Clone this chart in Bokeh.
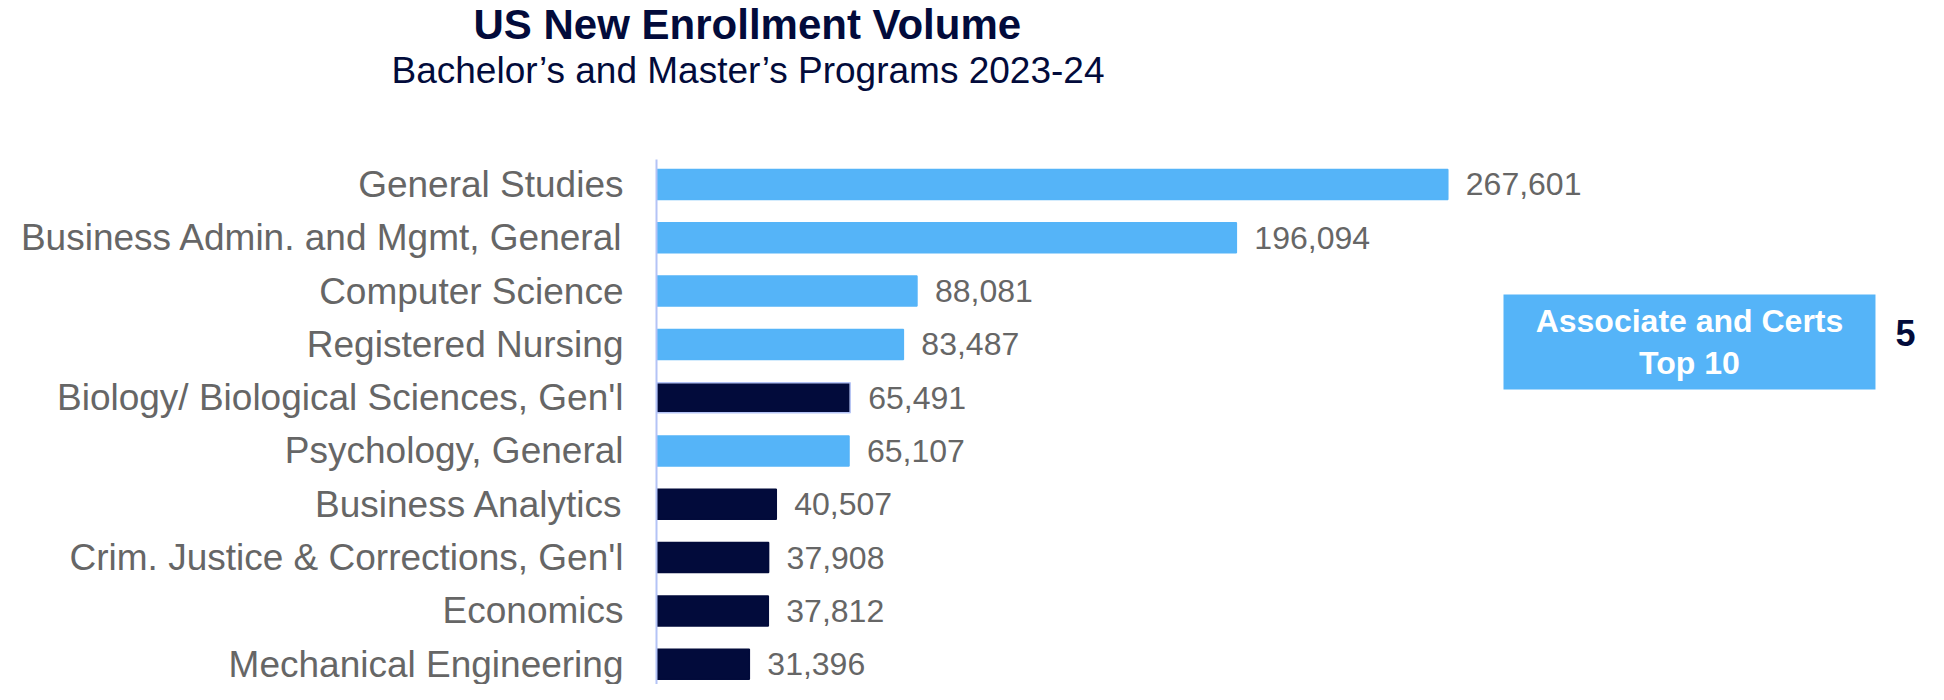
import numpy as np
from bokeh.plotting import figure
from bokeh.models import ColumnDataSource, Range1d, FixedTicker, Title
from bokeh.core.properties import value
from bokeh.embed import file_html
from bokeh.resources import INLINE

# ---------------- data ----------------
categories = [
    "General Studies",
    "Business Admin. and Mgmt, General",
    "Computer Science",
    "Registered Nursing",
    "Biology/ Biological Sciences, Gen'l",
    "Psychology, General",
    "Business Analytics",
    "Crim. Justice & Corrections, Gen'l",
    "Economics",
    "Mechanical Engineering",
]
enrollments = [267601, 196094, 88081, 83487, 65491, 65107, 40507, 37908, 37812, 31396]
# light-blue bars = program also in the Associate and Certs Top 10
in_assoc_top10 = [True, True, True, True, False, True, False, False, False, False]
outlined = ["Biology/ Biological Sciences, Gen'l"]

title_text = "US New Enrollment Volume"
subtitle_text = "Bachelor\u2019s and Master\u2019s Programs 2023-24"
callout_lines = ["Associate and Certs", "Top 10"]

# ---------------- style ----------------
FONT = "Liberation Sans"
NAVY = "#020b3b"
LIGHT = "#55b4f8"
GREY = "#666666"
AXIS = "#b4c3f6"

n = len(categories)
ypos = list(range(n))
colors = [LIGHT if f else NAVY for f in in_assoc_top10]
line_colors = [AXIS if c in outlined else col for c, col in zip(categories, colors)]
labels = [f"{v:,}" for v in enrollments]

src = ColumnDataSource(dict(y=ypos, value=enrollments, cat=categories,
                            color=colors, line_color=line_colors, label=labels))

Y_TOP, Y_BOTTOM = -0.469, 9.381     # visible extent of the bar rows
W, H = 1928, 684
p = figure(width=W, height=H, output_backend="svg", toolbar_location=None,
           x_axis_location=None,
           x_range=Range1d(0, 430170), y_range=Range1d(Y_BOTTOM, -1.726),
           min_border_left=656, min_border_right=0, min_border_bottom=0,
           min_border_top=92)
p.outline_line_color = None
p.grid.visible = False
p.background_fill_color = "white"
p.border_fill_color = "white"

yax = p.yaxis[0]
yax.ticker = FixedTicker(ticks=ypos)
yax.bounds = (Y_TOP, Y_BOTTOM)
yax.major_label_overrides = {i: c for i, c in zip(ypos, categories)}
yax.major_label_text_font = FONT
yax.major_label_text_font_size = "37px"
yax.major_label_text_color = GREY
yax.major_tick_line_color = None
yax.minor_tick_line_color = None
yax.major_tick_out = 0
yax.major_tick_in = 0
yax.minor_tick_out = 0
yax.major_label_standoff = 33
yax.axis_line_color = AXIS
yax.axis_line_width = 2

p.hbar(y="y", left=0, right="value", height=0.563, fill_color="color",
       line_color="line_color", line_width=1.5, source=src)

p.text(x="value", y="y", text="label", x_offset=18, text_align="left",
       text_baseline="middle", text_font=value(FONT), text_font_size="32px",
       text_color=GREY, source=src)

# callout box (layout positions)
BOX_L, BOX_R, BOX_T, BOX_B = 286440, 412240, 2.064, 3.846
p.quad(left=[BOX_L], right=[BOX_R], top=[BOX_T], bottom=[BOX_B],
       fill_color=LIGHT, line_color=None)
p.text(x=[(BOX_L + BOX_R) / 2], y=[(BOX_T + BOX_B) / 2], text=["\n".join(callout_lines)],
       text_align="center", text_baseline="middle", text_font=value(FONT),
       text_font_style="bold", text_font_size="32px", text_color="white",
       text_line_height=1.15)
p.text(x=[422390], y=[2.795], text=[str(sum(in_assoc_top10))],
       text_align="center", text_baseline="middle", text_font=value(FONT),
       text_font_style="bold", text_font_size="36px", text_color=NAVY)

# titles
sub = Title(text=subtitle_text, align="left", offset=-265, vertical_align="top",
            standoff=0, text_font=FONT, text_font_size="37px",
            text_font_style="normal", text_color=NAVY)
main = Title(text=title_text, align="left", offset=-183, vertical_align="top",
             standoff=0, text_font=FONT, text_font_size="42px",
             text_font_style="bold", text_color=NAVY)
p.add_layout(sub, "above")
p.add_layout(main, "above")

open("out.html", "w").write(file_html(p, INLINE, "US New Enrollment Volume"))
